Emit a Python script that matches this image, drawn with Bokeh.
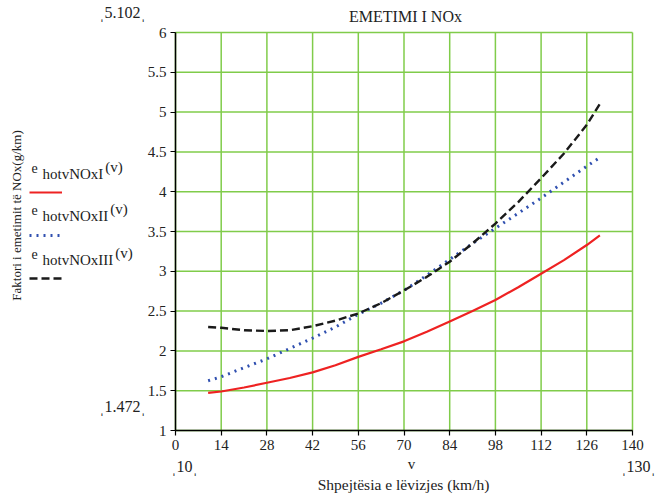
import math
from bokeh.plotting import figure
from bokeh.models import Label, Legend, LegendItem, FixedTicker, Range1d, LinearAxis
from bokeh.core.properties import value
from bokeh.embed import file_html
from bokeh.resources import INLINE

# ---- data ----
speed = [10, 14, 21, 28, 35, 42, 49, 56, 63, 70, 77, 84, 91, 98, 105, 112, 119, 126, 130]
nox_I = [1.472, 1.49, 1.54, 1.60, 1.66, 1.73, 1.82, 1.925, 2.02, 2.12, 2.24, 2.37, 2.50,
         2.64, 2.80, 2.97, 3.14, 3.33, 3.45]
nox_II = [1.625, 1.675, 1.79, 1.90, 2.03, 2.16, 2.30, 2.46, 2.60, 2.76, 2.95, 3.15, 3.35,
          3.54, 3.73, 3.92, 4.12, 4.32, 4.43]
nox_III = [2.30, 2.29, 2.26, 2.25, 2.26, 2.31, 2.38, 2.47, 2.60, 2.76, 2.93, 3.12, 3.35,
           3.60, 3.87, 4.17, 4.48, 4.84, 5.102]
x_ticks = [0, 14, 28, 42, 56, 70, 84, 98, 112, 126, 140]
y_ticks = [1, 1.5, 2, 2.5, 3, 3.5, 4, 4.5, 5, 5.5, 6]
x_lo, x_hi = 0, 140
y_lo, y_hi = 1, 6
y_min_label = "1.472"
y_max_label = "5.102"
x_min_label = "10"
x_max_label = "130"
series_names = ["I", "II", "III"]

FONT = "Liberation Serif"
GRID = "#80cc4a"
TXT = "#222222"

W, H = 655, 496
L, R, T, B = 175, 632, 32, 430   # pixel box of the plotting area


def dx(px):
    return x_lo + (px - L) * (x_hi - x_lo) / (R - L)


def dy(py):
    return y_lo + (B - py) * (y_hi - y_lo) / (B - T)


p = figure(width=W, height=H, output_backend="svg", toolbar_location=None,
           x_range=Range1d(dx(0), dx(W)), y_range=Range1d(dy(H), dy(0)),
           x_axis_location=None, y_axis_location=None,
           min_border_left=0, min_border_right=0, min_border_top=0, min_border_bottom=0)
p.background_fill_color = "white"
p.border_fill_color = "white"
p.outline_line_color = None
p.xgrid.visible = False
p.ygrid.visible = False

# grid lines restricted to the plotting box, built from the tick lists
p.segment(x0=x_ticks, y0=[y_lo] * len(x_ticks), x1=x_ticks, y1=[y_hi] * len(x_ticks),
          line_color=GRID, line_width=1.5)
p.segment(x0=[x_lo] * len(y_ticks), y0=y_ticks, x1=[x_hi] * len(y_ticks), y1=y_ticks,
          line_color=GRID, line_width=1.5)

xax = LinearAxis(fixed_location=y_lo, bounds=(x_lo, x_hi), ticker=FixedTicker(ticks=x_ticks))
yax = LinearAxis(fixed_location=x_lo, bounds=(y_lo, y_hi), ticker=FixedTicker(ticks=y_ticks))
yax.major_label_overrides = {v: (str(int(v)) if float(v).is_integer() else str(v)) for v in y_ticks}
for ax in (xax, yax):
    ax.axis_line_color = "black"
    ax.axis_line_width = 1.5
    ax.major_tick_line_color = "black"
    ax.major_tick_line_width = 1.2
    ax.major_tick_out = 5
    ax.major_tick_in = 0
    ax.minor_tick_line_color = None
    ax.major_label_text_font = FONT
    ax.major_label_text_font_size = "15px"
    ax.major_label_text_color = TXT
    ax.major_label_standoff = 4
p.add_layout(xax, "below")
p.add_layout(yax, "left")

r1 = p.line(speed, nox_I, line_color="#ee2222", line_width=2.2)
r2 = p.line(speed, nox_II, line_color="#3050b0", line_width=3, line_dash="2 5")
r3 = p.line(speed, nox_III, line_color="#1a1a1a", line_width=2.4, line_dash="8 4")


def lab(px, py, text, size="15px", align="center", baseline="middle", angle=0.0):
    p.add_layout(Label(x=dx(px), y=dy(py), text=text, text_font=FONT, text_font_size=size,
                       text_align=align, text_baseline=baseline, angle=angle, text_color=TXT))


lab(405, 16, "EMETIMI I NOx", size="16px")
lab(411, 463, "v")
lab(403, 484, "Shpejtësia e lëvizjes (km/h)", size="15.5px")
lab(122, 12, "\u02cc" + y_max_label + "\u02cc", size="16px")
lab(122, 406, "\u02cc" + y_min_label + "\u02cc", size="16px")
lab(184, 466, "\u02cc" + x_min_label + "\u02cc", size="16px")
lab(638, 466, "\u02cc" + x_max_label + "\u02cc", size="16px")
lab(16, 215, "Faktori i emetimit të NOx(g/km)", size="13px", angle=math.pi / 2)

# formula labels above the legend samples
ys = [173, 215, 259]
for n, yy in zip(series_names, ys):
    lab(31, yy - 6, "e", size="14px", align="left")
    sub = "hotvNOx" + n
    lab(42, yy, sub, size="15px", align="left")
    w = 15 * (3.722 + 0.333 * len(n)) + 2
    lab(42 + w, yy - 7, "(v)", size="15px", align="left")

leg = Legend(items=[LegendItem(label=value(" "), renderers=[r]) for r in (r1, r2, r3)],
             location=(29, H - 281), orientation="vertical",
             glyph_width=33, glyph_height=6, label_height=6, label_width=0,
             label_text_font_size="1px", label_standoff=0, spacing=37,
             padding=0, margin=0, border_line_color=None, background_fill_alpha=0)
p.add_layout(leg, "center")

open("out.html", "w").write(file_html(p, INLINE))
